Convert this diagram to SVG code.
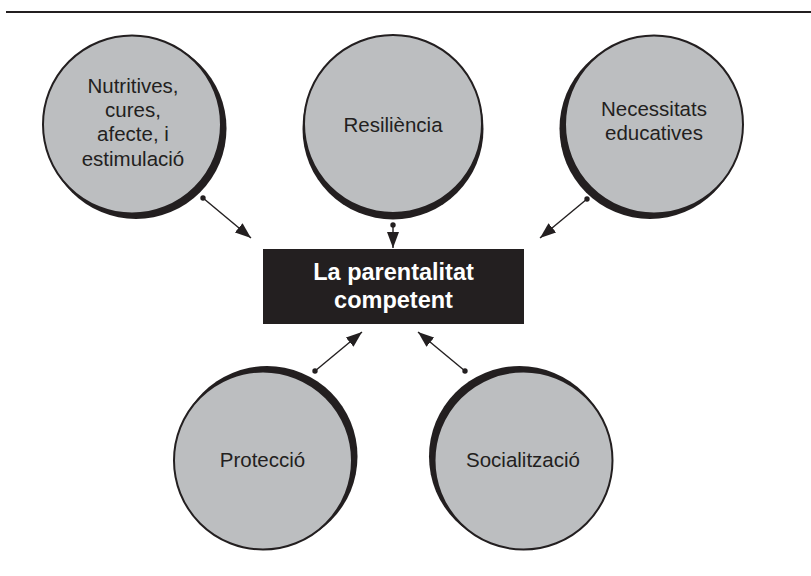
<svg xmlns="http://www.w3.org/2000/svg" width="811" height="576" viewBox="0 0 811 576">
<style>
.bg{fill:#ffffff}
.shadow{fill:#231f20}
.disc{fill:#bcbec0;stroke:#231f20;stroke-width:2}
.lbl{font-family:"Liberation Sans",Arial,sans-serif;font-size:20.5px;fill:#231f20;text-anchor:middle}
.hub{fill:#231f20}
.hubtxt{font-family:"Liberation Sans",Arial,sans-serif;font-size:23.5px;font-weight:bold;fill:#ffffff;text-anchor:middle}
.conn{stroke:#231f20;stroke-width:1.4;fill:none;marker-start:url(#dot);marker-end:url(#arr)}
</style>
<defs>
<marker id="arr" markerUnits="userSpaceOnUse" markerWidth="17" markerHeight="13" refX="16" refY="6" orient="auto" viewBox="0 0 17 12">
<path d="M0,0 L16,6 L0,12 z" fill="#231f20"/>
</marker>
<marker id="dot" markerUnits="userSpaceOnUse" markerWidth="7" markerHeight="7" refX="3.5" refY="3.5" viewBox="0 0 7 7">
<circle cx="3.5" cy="3.5" r="2.7" fill="#231f20"/>
</marker>
</defs>
<rect class="bg" x="0" y="0" width="811" height="576"/>
<line x1="6" y1="12" x2="811" y2="12" stroke="#231f20" stroke-width="2.2"/>

<g id="connectors">
<line class="conn" x1="203" y1="198" x2="251" y2="238"/>
<line class="conn" x1="393" y1="225" x2="393" y2="248"/>
<line class="conn" x1="587" y1="199" x2="540" y2="238"/>
<line class="conn" x1="315" y1="371" x2="362" y2="332"/>
<line class="conn" x1="465" y1="371" x2="418" y2="332"/>
</g>

<g id="nutritives">
<circle class="shadow" cx="136" cy="128.5" r="90.5"/>
<circle class="disc" cx="132" cy="124.5" r="89"/>
<text class="lbl" x="133" y="93">Nutritives,</text>
<text class="lbl" x="133" y="117">cures,</text>
<text class="lbl" x="133" y="141">afecte, i</text>
<text class="lbl" x="133" y="166">estimulació</text>
</g>

<g id="resiliencia">
<circle class="shadow" cx="393" cy="129" r="90.5"/>
<circle class="disc" cx="393" cy="124" r="89"/>
<text class="lbl" x="393" y="132">Resiliència</text>
</g>

<g id="necessitats">
<circle class="shadow" cx="650" cy="128.5" r="90.5"/>
<circle class="disc" cx="654" cy="124.5" r="89"/>
<text class="lbl" x="654" y="116">Necessitats</text>
<text class="lbl" x="654" y="140">educatives</text>
</g>

<g id="parentalitat">
<rect class="hub" x="263" y="249" width="261" height="75"/>
<text class="hubtxt" x="393.5" y="280">La parentalitat</text>
<text class="hubtxt" x="393.5" y="308">competent</text>
</g>

<g id="proteccio">
<circle class="shadow" cx="267" cy="456.5" r="90.5"/>
<circle class="disc" cx="263" cy="460.5" r="89"/>
<text class="lbl" x="262.5" y="467">Protecció</text>
</g>

<g id="socialitzacio">
<circle class="shadow" cx="519.5" cy="456.5" r="90.5"/>
<circle class="disc" cx="523.5" cy="460.5" r="89"/>
<text class="lbl" x="523" y="467">Socialització</text>
</g>
</svg>
